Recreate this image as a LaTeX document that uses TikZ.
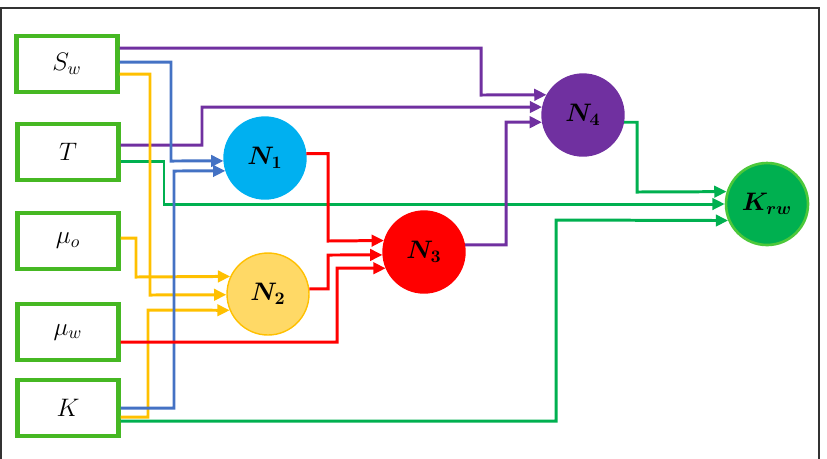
\documentclass[tikz,border=0pt]{standalone}
\usepackage{amsmath,bm}
\usepackage{tikz}
\usetikzlibrary{arrows.meta, calc}
\definecolor{mboxgreen}{HTML}{46B823}
\definecolor{mblue}{HTML}{4472C4}
\definecolor{myellow}{HTML}{FFC000}
\definecolor{mpurple}{HTML}{7030A0}
\definecolor{mred}{HTML}{FF0000}
\definecolor{mgreen}{HTML}{00B050}
\definecolor{mcyan}{HTML}{00B0F0}
\definecolor{mlightyellow}{HTML}{FFD966}
\definecolor{mlightgreen}{HTML}{4CC83A}
\definecolor{mframe}{HTML}{333333}
\tikzset{
  inbox/.style={draw=mboxgreen, line width=2.4pt, fill=white,
                minimum width=2.02cm, minimum height=1.12cm, font=\Large},
  neuron/.style={circle, minimum size=1.64cm, inner sep=0pt, font=\Large, line width=0.8pt},
  link/.style={line width=1.7pt, -{Triangle[length=7pt,width=6.5pt]}},
  barr/.style={link, mblue},
  yarr/.style={link, myellow},
  parr/.style={link, mpurple},
  rarr/.style={link, mred},
  garr/.style={link, mgreen},
}
\begin{document}
\begin{tikzpicture}[x=0.02cm, y=-0.02cm]
  \useasboundingbox (0,0) rectangle (827,458);
  %% Frame
  \draw[mframe, line width=1.2pt] (1,460) -- (1,8) -- (819,8) -- (819,460);

  %% Inputs
  \node[inbox] (sw)  at (67,64)  {$S_w$};
  \node[inbox] (t)   at (68,152) {$T$};
  \node[inbox] (muo) at (68,241) {$\mu_o$};
  \node[inbox] (muw) at (68,332) {$\mu_w$};
  \node[inbox] (k)   at (68,408) {$K$};

  %% Neurons
  \node[neuron, draw=mcyan, fill=mcyan] (n1) at (265,158) {$\bm{N_1}$};
  \node[neuron, draw=myellow, fill=mlightyellow] (n2) at (268,294) {$\bm{N_2}$};
  \node[neuron, draw=mred, fill=mred] (n3) at (424,252) {$\bm{N_3}$};
  \node[neuron, draw=mpurple, fill=mpurple] (n4) at (583,115) {$\bm{N_4}$};
  \node[neuron, draw=mlightgreen, line width=1.5pt, fill=mgreen] (krw) at (767,204) {$\bm{K_{rw}}$};

  %% Green links (behind)
  \draw[garr] (t.east |- 0,161) -| (164,204) -- (krw.180);
  \draw[garr] (n4.350) -| (637,192) -- (krw.163);
  \draw[garr] (k.east |- 0,421) -| (556,220) -- (krw.203);

  %% Purple links
  \draw[parr] (sw.east |- 0,48) -| (481,95) -- (n4.151);
  \draw[parr] (t.east |- 0,145) -| (202,107) -- (n4.169);
  \draw[parr] (n3.10) -| (506,122) -- (n4.190);

  %% Yellow links
  \draw[yarr] (sw.east |- 0,74) -| (150,295) -- (n2.181);
  \draw[yarr] (muo.east |- 0,238) -| (136,277) -- (n2.155);
  \draw[yarr] (k.east |- 0,417) -| (148,310) -- (n2.203);

  %% Blue links
  \draw[barr] (sw.east |- 0,62) -| (171,161) -- (n1.184);
  \draw[barr] (k.east |- 0,408) -| (174,171) -- (n1.198);

  %% Red links
  \draw[rarr] (n1.6) -| (328,241) -- (n3.164);
  \draw[rarr] (n2.7) -| (328,255) -- (n3.184);
  \draw[rarr] (muw.east |- 0,342) -| (337,268) -- (n3.203);
\end{tikzpicture}
\end{document}
